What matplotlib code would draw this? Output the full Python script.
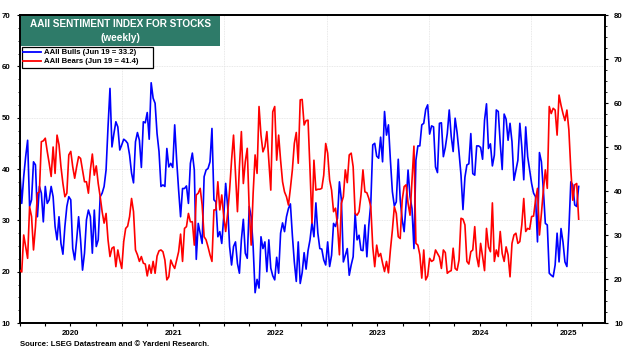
import numpy as np
import pandas as pd
import matplotlib
matplotlib.use("Agg")
import matplotlib.pyplot as plt
import matplotlib.dates as mdates
from matplotlib.patches import Rectangle
from matplotlib.lines import Line2D

plt.rcParams['font.family'] = ['Liberation Sans', 'DejaVu Sans']
plt.rcParams['font.weight'] = 'bold'

# ---------------- data (weekly, from 2020-01-02) ----------------
start_date = "2020-01-02"

bulls_2020 = [39.8, 33.3, 38.5, 42.4, 45.6, 32.7, 34.0, 41.4, 40.8, 30.7, 36.6, 35.3, 29.7, 36.6, 33.3, 34.0, 36.6,
              34.6, 28.8, 26.2, 30.7, 25.5, 23.4, 28.8, 32.7, 34.6, 34.0, 24.5, 22.3, 26.2, 30.7, 26.2, 20.3, 23.6,
              30.1, 32.0, 30.7, 23.6, 32.0, 24.9, 26.2, 34.6, 35.3, 36.6, 39.8, 48.2, 55.7, 44.3, 46.9, 49.2, 48.2]
bulls_2021 = [43.7, 44.7, 45.8, 45.5, 45.0, 42.7, 39.2, 37.3, 45.3, 47.1, 45.6, 40.3, 49.2, 49.0, 51.0, 45.8, 56.8,
              53.8, 52.8, 46.9, 43.4, 36.6, 36.9, 36.6, 44.0, 40.4, 41.1, 40.3, 48.6, 41.7, 35.9, 30.7, 36.2, 36.2,
              36.7, 33.3, 41.1, 43.1, 39.8, 22.4, 29.4, 27.5, 25.5, 38.5, 39.8, 40.1, 41.4, 47.9, 34.0, 33.6, 26.8]
bulls_2022 = [27.8, 25.5, 30.7, 37.2, 32.7, 24.9, 21.3, 24.9, 25.8, 21.6, 19.7, 26.2, 30.2, 23.6, 22.6, 32.7, 30.7,
              24.9, 15.9, 18.5, 16.8, 26.8, 24.5, 25.8, 20.0, 26.2, 20.7, 19.2, 18.4, 22.8, 19.7, 27.5, 29.5, 27.8,
              30.7, 32.3, 33.2, 27.1, 21.9, 18.1, 25.8, 17.7, 19.8, 23.7, 20.5, 24.1, 26.2, 29.5, 26.8, 33.4, 27.5]
bulls_2023 = [24.5, 24.4, 22.3, 21.3, 25.8, 21.0, 23.2, 29.4, 28.8, 30.4, 37.5, 34.0, 21.9, 23.2, 24.5, 19.3, 21.3,
              22.9, 31.4, 26.2, 27.1, 24.2, 24.1, 29.1, 22.9, 29.1, 33.3, 44.7, 45.0, 42.5, 42.1, 46.2, 41.4, 51.2,
              46.6, 48.6, 41.7, 35.6, 32.8, 33.6, 41.9, 34.0, 30.2, 27.8, 33.3, 39.8, 34.6, 32.3, 24.5, 41.7, 44.5]
bulls_2024 = [44.5, 48.6, 48.9, 51.6, 52.5, 46.8, 48.4, 48.2, 40.4, 39.3, 48.9, 49.0, 42.4, 44.2, 46.9, 51.5, 46.4,
              43.4, 49.9, 47.1, 43.2, 38.8, 32.1, 38.4, 40.8, 41.0, 46.9, 39.1, 38.8, 44.5, 44.5, 44.2, 41.9, 49.5,
              52.7, 44.0, 44.9, 40.6, 42.7, 51.5, 51.2, 45.0, 39.9, 50.7, 49.7, 45.6, 48.9, 45.3, 37.8, 39.8, 41.7]
bulls_2025 = [48.9, 44.3, 37.9, 48.2, 42.4, 39.8, 37.2, 35.3, 34.6, 25.8, 43.2, 41.4, 35.9, 29.4, 29.1, 19.7, 19.3,
              19.0, 21.3, 27.5, 21.9, 28.4, 25.8, 21.9, 21.0, 28.1, 37.5, 36.9, 33.0, 32.7, 36.6]

bears_2020 = [22.0, 21.6, 30.0, 27.3, 24.7, 36.4, 34.2, 26.6, 31.9, 39.5, 39.8, 51.2, 51.4, 52.0, 49.0, 46.3, 43.3,
              50.0, 44.0, 52.7, 50.5, 45.5, 41.7, 38.7, 39.5, 48.2, 49.0, 45.5, 42.9, 45.5, 47.8, 47.4, 44.8, 42.1,
              42.1, 39.5, 44.8, 48.4, 43.6, 45.7, 41.7, 38.7, 35.3, 32.7, 34.9, 28.9, 25.1, 27.0, 27.3, 22.8, 26.6]
bears_2021 = [24.3, 22.4, 28.5, 31.5, 32.0, 34.2, 38.3, 35.3, 26.6, 25.5, 24.0, 25.1, 23.6, 23.4, 20.7, 23.2, 21.3,
              24.0, 21.3, 25.2, 26.4, 26.6, 26.2, 24.3, 19.8, 20.5, 24.3, 23.2, 22.4, 24.3, 26.2, 30.2, 24.0, 31.5,
              31.9, 34.9, 33.0, 33.0, 27.7, 39.1, 39.5, 40.6, 36.8, 29.6, 28.9, 27.3, 25.5, 24.0, 35.7, 35.7, 42.1]
bears_2022 = [35.7, 39.1, 34.2, 30.8, 34.9, 40.2, 47.0, 52.7, 44.0, 35.3, 45.5, 53.5, 41.7, 46.7, 49.7, 35.7, 27.7,
              39.5, 48.2, 44.0, 59.2, 52.7, 48.9, 50.1, 53.5, 47.0, 40.2, 58.0, 59.2, 47.0, 52.7, 47.0, 42.1, 39.8,
              38.7, 36.8, 40.6, 44.8, 50.8, 53.3, 46.3, 60.7, 60.8, 55.0, 56.0, 56.1, 44.8, 32.7, 47.0, 40.2, 40.4]
bears_2023 = [40.4, 40.6, 43.6, 50.8, 48.6, 42.5, 40.2, 35.3, 36.1, 32.3, 25.5, 37.2, 38.7, 44.8, 41.9, 48.2, 48.6,
              45.5, 34.9, 34.5, 35.3, 39.1, 44.8, 39.8, 39.6, 38.3, 36.4, 27.3, 22.8, 27.7, 25.1, 25.8, 23.6, 21.7,
              24.0, 21.4, 26.6, 31.1, 36.4, 34.9, 29.6, 29.2, 37.9, 41.0, 41.4, 37.2, 34.5, 42.5, 50.2, 28.1, 27.7]
bears_2024 = [25.5, 20.2, 26.6, 19.8, 20.7, 24.7, 24.0, 24.3, 26.6, 25.8, 25.0, 22.4, 26.6, 26.0, 21.3, 21.7, 21.9,
              27.0, 22.4, 22.0, 24.3, 33.8, 33.6, 32.3, 24.0, 23.4, 26.2, 26.6, 31.9, 25.1, 22.8, 28.1, 25.1, 21.9,
              31.5, 27.3, 26.2, 37.3, 24.0, 26.6, 25.1, 30.8, 25.8, 24.0, 27.3, 25.5, 20.5, 28.1, 30.0, 30.4, 28.1]
bears_2025 = [28.5, 32.3, 38.3, 30.8, 31.5, 31.3, 34.2, 34.3, 37.9, 40.6, 30.0, 34.9, 40.2, 44.8, 40.6, 59.2, 57.6,
              58.8, 58.4, 52.7, 61.8, 59.5, 57.6, 56.0, 58.4, 53.9, 44.8, 37.9, 41.4, 41.7, 33.6]

bulls = bulls_2020 + bulls_2021 + bulls_2022 + bulls_2023 + bulls_2024 + bulls_2025
bears = bears_2020 + bears_2021 + bears_2022 + bears_2023 + bears_2024 + bears_2025
dates = pd.date_range(start_date, periods=len(bulls), freq="7D")

year_labels = ["2020", "2021", "2022", "2023", "2024", "2025"]
left_ticks = [10, 20, 30, 40, 50, 60, 70]
right_ticks = [10, 20, 30, 40, 50, 60, 70, 80]

title_line1 = "AAII SENTIMENT INDEX FOR STOCKS"
title_line2 = "(weekly)"
bulls_label = "AAII Bulls (Jun 19 = 33.2)"
bears_label = "AAII Bears (Jun 19 = 41.4)"
source_text = "Source: LSEG Datastream and \u00a9 Yardeni Research."

# ---------------- figure ----------------
W, H = 624, 351
fig = plt.figure(figsize=(W / 100, H / 100), dpi=100)
L, R, T, B = 19.5, 605, 15, 323
ax = fig.add_axes([L / W, 1 - B / H, (R - L) / W, (B - T) / H])
ax2 = ax.twinx()

tick_fs = 5.7
x0 = pd.Timestamp("2020-01-01")
x1 = pd.Timestamp("2025-09-21")

l1, = ax.plot(dates, bulls, color="#0000ff", lw=1.2, zorder=3)
l2, = ax2.plot(dates, bears, color="#ff0000", lw=1.2, zorder=3)

ax.set_xlim(x0, x1)
ax.set_ylim(10, 70)
ax2.set_ylim(10, 80)

ax.set_yticks(left_ticks)
ax.set_yticklabels([str(t) for t in left_ticks], fontsize=tick_fs, fontweight="bold")
ax2.set_yticks(right_ticks)
ax2.set_yticklabels([str(t) for t in right_ticks], fontsize=tick_fs, fontweight="bold")
ax.yaxis.set_minor_locator(matplotlib.ticker.MultipleLocator(2.5))
ax2.yaxis.set_minor_locator(matplotlib.ticker.MultipleLocator(2.5))

# x ticks: quarter ticks, year labels centred in each (visible) year
ax.xaxis.set_minor_locator(mdates.MonthLocator(bymonth=[1, 4, 7, 10]))
year_starts = [pd.Timestamp(f"{y}-01-01") for y in year_labels]
label_pos = []
for i, y in enumerate(year_labels):
    s = year_starts[i]
    e = min(pd.Timestamp(f"{int(y) + 1}-01-01"), x1)
    label_pos.append(s + (e - s) / 2)
ax.set_xticks(label_pos)
ax.set_xticklabels(year_labels, fontsize=tick_fs, fontweight="bold")
ax.tick_params(axis="x", which="major", length=0, pad=5)
ax.tick_params(axis="x", which="minor", length=2.5, width=0.8, direction="out")
ax.tick_params(axis="y", which="major", length=2.5, width=0.8, pad=4)
ax.tick_params(axis="y", which="minor", length=1.5, width=0.6)
ax2.tick_params(axis="y", which="major", length=2.5, width=0.8, pad=4)
ax2.tick_params(axis="y", which="minor", length=1.5, width=0.6)

# grid
for yv in left_ticks[1:-1]:
    ax.axhline(yv, color="#e2e2e2", lw=0.6, ls=(0, (1, 1)), zorder=0)
for s in year_starts[1:]:
    ax.axvline(s, color="#e2e2e2", lw=0.6, ls=(0, (1, 1)), zorder=0)

for a in (ax, ax2):
    for sp in a.spines.values():
        sp.set_linewidth(1.3)
        sp.set_color("black")

# title box
tr = ax2.transAxes
ax2.add_patch(Rectangle((0.002, 0.9003), 0.3404, 0.0965, transform=tr,
                        facecolor="#2e7b69", edgecolor="none", zorder=10))
ax2.text(0.1723, 0.9708, title_line1, transform=tr, color="white",
         fontsize=7.2, fontweight="bold", ha="center", va="center", zorder=11)
ax2.text(0.1723, 0.9244, title_line2, transform=tr, color="white",
         fontsize=7.2, fontweight="bold", ha="center", va="center", zorder=11)

# legend box (drawn by hand to match the framed key)
ax2.add_patch(Rectangle((0.0038, 0.8279), 0.2242, 0.0672, transform=tr,
                        facecolor="white", edgecolor="black", lw=0.9, zorder=12))
for yk, ln, lab in [(0.8789, l1, bulls_label), (0.8497, l2, bears_label)]:
    ax2.add_line(Line2D([0.0065, 0.0362], [yk, yk], transform=tr, color=ln.get_color(),
                        lw=1.3, zorder=13))
    ax2.text(0.0413, yk, lab, transform=tr, fontsize=5.6, fontweight="bold",
             ha="left", va="center", zorder=13)

fig.text(20.5 / W, 1 - 344.5 / H, source_text, fontsize=5.6, fontweight="bold",
         ha="left", va="center")

fig.savefig("out.png", dpi=100)
